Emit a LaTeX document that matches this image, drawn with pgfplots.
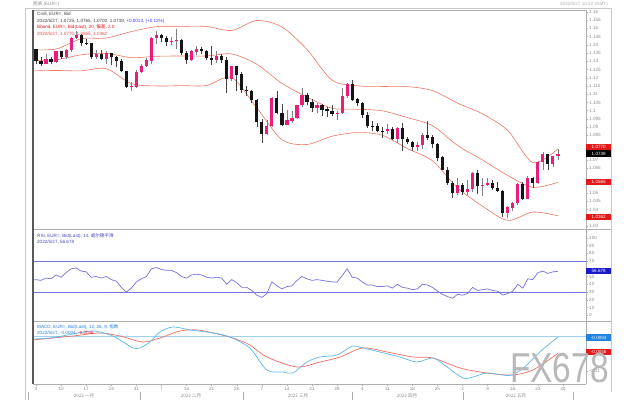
\documentclass[border=0pt]{standalone}
\usepackage{pgfplots}
\pgfplotsset{compat=1.18}
\usepackage{pgfplotstable}
\usepackage{fontspec}
\setmainfont{Liberation Sans}
\newfontfamily\cjk{Noto Sans CJK SC}
\definecolor{cpink}{RGB}{232,30,122}
\definecolor{cblack}{RGB}{20,20,20}
\definecolor{bband}{RGB}{236,120,100}
\definecolor{rsiblue}{RGB}{115,115,225}
\definecolor{rsitext}{RGB}{70,70,200}
\definecolor{macdblue}{RGB}{95,185,235}
\definecolor{macdred}{RGB}{240,110,100}
\definecolor{zeroblue}{RGB}{160,210,240}
\definecolor{lbl}{RGB}{140,140,140}
\definecolor{frame}{RGB}{175,175,175}
\definecolor{boxred}{RGB}{225,25,25}
\definecolor{boxblue}{RGB}{25,25,200}
\definecolor{boxmacd}{RGB}{35,130,220}
\newcommand{\tinyf}{\fontsize{4.6}{5}\selectfont}

\pgfplotstableread{
i o h l c
2 1.1285 1.1346 1.1285 1.1313
4 1.1296 1.1365 1.1288 1.1360
6 1.1325 1.1374 1.1314 1.1368
7 1.1368 1.1448 1.1358 1.1440
8 1.1440 1.1482 1.1435 1.1455
12 1.1325 1.1369 1.1311 1.1343
14 1.1311 1.1364 1.1285 1.1345
19 1.1144 1.1175 1.1121 1.1146
20 1.1146 1.1244 1.1139 1.1235
21 1.1235 1.1284 1.1231 1.1271
22 1.1271 1.1322 1.1266 1.1303
23 1.1303 1.1450 1.1281 1.1440
24 1.1440 1.1483 1.1405 1.1455
27 1.1415 1.1448 1.1400 1.1422
28 1.1422 1.1495 1.1375 1.1424
31 1.1306 1.1368 1.1302 1.1359
32 1.1359 1.1395 1.1335 1.1374
36 1.1309 1.1360 1.1288 1.1327
39 1.1193 1.1274 1.1181 1.1270
46 1.0856 1.0942 1.0854 1.0905
47 1.0905 1.1085 1.0900 1.1075
50 1.0913 1.1002 1.0912 1.0940
51 1.0940 1.0997 1.0924 1.0955
52 1.0955 1.1037 1.0950 1.1033
53 1.1033 1.1137 1.1020 1.1094
56 1.1015 1.1044 1.0986 1.1031
60 1.0982 1.0996 1.0945 1.0985
61 1.0985 1.1137 1.0981 1.1087
62 1.1087 1.1170 1.1078 1.1160
70 1.0876 1.0922 1.0857 1.0889
72 1.0829 1.0902 1.0806 1.0892
76 1.0779 1.0808 1.0757 1.0789
77 1.0789 1.0866 1.0769 1.0853
84 1.0498 1.0593 1.0490 1.0545
86 1.0506 1.0580 1.0491 1.0525
87 1.0525 1.0630 1.0505 1.0622
89 1.0540 1.0592 1.0483 1.0550
90 1.0550 1.0594 1.0543 1.0560
94 1.0381 1.0424 1.0350 1.0411
95 1.0411 1.0444 1.0389 1.0437
96 1.0437 1.0564 1.0425 1.0552
98 1.0467 1.0606 1.0462 1.0587
100 1.0563 1.0697 1.0556 1.0688
101 1.0688 1.0748 1.0641 1.0733
103 1.0676 1.0728 1.0660 1.0723
104 1.0723 1.0765 1.0700 1.0738
}\uptab

\pgfplotstableread{
i o h l c
0 1.1370 1.1376 1.1281 1.1299
1 1.1299 1.1323 1.1272 1.1285
3 1.1313 1.1325 1.1285 1.1296
5 1.1360 1.1363 1.1314 1.1325
9 1.1455 1.1464 1.1394 1.1411
10 1.1411 1.1432 1.1397 1.1408
11 1.1408 1.1413 1.1315 1.1325
13 1.1343 1.1370 1.1307 1.1311
15 1.1345 1.1347 1.1276 1.1325
16 1.1325 1.1333 1.1265 1.1302
17 1.1302 1.1311 1.1234 1.1238
18 1.1238 1.1242 1.1137 1.1144
25 1.1455 1.1465 1.1416 1.1441
26 1.1441 1.1451 1.1394 1.1415
29 1.1424 1.1434 1.1340 1.1349
30 1.1349 1.1364 1.1281 1.1306
33 1.1374 1.1384 1.1341 1.1362
34 1.1362 1.1370 1.1308 1.1320
35 1.1320 1.1394 1.1280 1.1309
37 1.1327 1.1345 1.1292 1.1308
38 1.1308 1.1326 1.1106 1.1193
40 1.1270 1.1273 1.1122 1.1219
41 1.1219 1.1234 1.1106 1.1123
42 1.1123 1.1150 1.1089 1.1118
43 1.1118 1.1125 1.1049 1.1063
44 1.1063 1.1070 1.0900 1.0929
45 1.0929 1.0951 1.0806 1.0856
48 1.1075 1.1121 1.0982 1.0985
49 1.0985 1.1041 1.0906 1.0913
54 1.1094 1.1107 1.1032 1.1051
55 1.1051 1.1070 1.0994 1.1015
57 1.1031 1.1040 1.0967 1.1007
58 1.1007 1.1022 1.0964 1.0998
59 1.0998 1.1037 1.0965 1.0982
63 1.1160 1.1185 1.1058 1.1067
64 1.1067 1.1076 1.1028 1.1046
65 1.1046 1.1050 1.0956 1.0971
66 1.0971 1.0993 1.0897 1.0904
67 1.0904 1.0936 1.0879 1.0902
68 1.0902 1.0923 1.0868 1.0877
69 1.0877 1.0900 1.0837 1.0876
71 1.0889 1.0900 1.0822 1.0829
73 1.0892 1.0923 1.0758 1.0826
74 1.0826 1.0843 1.0796 1.0808
75 1.0808 1.0818 1.0758 1.0779
78 1.0853 1.0936 1.0823 1.0836
79 1.0836 1.0850 1.0771 1.0796
80 1.0796 1.0806 1.0697 1.0715
81 1.0715 1.0724 1.0637 1.0639
82 1.0639 1.0656 1.0551 1.0560
83 1.0560 1.0576 1.0471 1.0498
85 1.0545 1.0564 1.0490 1.0506
88 1.0622 1.0641 1.0493 1.0540
91 1.0560 1.0577 1.0517 1.0530
92 1.0530 1.0567 1.0505 1.0513
93 1.0513 1.0518 1.0354 1.0381
97 1.0552 1.0566 1.0459 1.0467
99 1.0587 1.0600 1.0532 1.0563
102 1.0733 1.0737 1.0642 1.0676
}\downtab

\pgfplotstableread{
i ub mb lb
-1 1.1371 1.1306 1.1241
4 1.1374 1.1309 1.1244
9 1.1436 1.1339 1.1242
14 1.1441 1.1348 1.1255
19 1.1480 1.1322 1.1164
24 1.1510 1.1330 1.1150
29 1.1512 1.1332 1.1152
34 1.1511 1.1332 1.1153
39 1.1487 1.1344 1.1201
44 1.1547 1.1282 1.1017
49 1.1508 1.1166 1.0824
54 1.1371 1.1083 1.0795
59 1.1185 1.1015 1.0845
64 1.1151 1.1009 1.0867
69 1.1147 1.0999 1.0851
74 1.1146 1.0958 1.0770
79 1.1122 1.0909 1.0696
84 1.1046 1.0789 1.0532
89 1.0980 1.0700 1.0420
94 1.0880 1.0607 1.0334
99 1.0685 1.0535 1.0385
104 1.0768 1.0565 1.0362
}\bbtab

\pgfplotsset{
  panel/.style={
    scale only axis, width=553bp,
    xmin=-0.6, xmax=109.6,
    axis y line*=right,
    axis line style={-, draw=frame, line width=0.5bp},
    ytick pos=right, yticklabel pos=right,
    tick align=outside, major tick length=2bp,
    tick style={frame, line width=0.4bp},
    yticklabel style={font=\tinyf, text=lbl, inner sep=1bp},
    /pgf/number format/assume math mode=true,
    scaled y ticks=false,
  },
  candle/.style={only marks, mark=*, mark size=0pt, mark options={draw=none, fill=none},
    error bars/.cd, y dir=plus, y explicit, error mark=none},
}

\begin{document}
\begin{tikzpicture}
\useasboundingbox (0,0) rectangle (640bp,400bp);
\fill[white] (0,0) rectangle (640bp,400bp);

% ---------------- main price panel
\begin{axis}[panel, axis x line=none, at={(33bp,390bp)}, anchor=north west, height=219bp,
  ymin=1.0282, ymax=1.1611,
  ytick={1.03,1.04,1.045,1.05,1.065,1.07,1.085,1.09,1.095,1.1,1.105,1.11,1.115,1.12,1.125,1.13,1.135,1.14,1.145,1.15,1.155,1.16},
  yticklabel style={/pgf/number format/fixed, /pgf/number format/precision=3},
]
\addplot[bband, line width=0.6bp, smooth] table[x=i, y=ub] {\bbtab};
\addplot[bband, line width=0.6bp, smooth] table[x=i, y=mb] {\bbtab};
\addplot[bband, line width=0.6bp, smooth] table[x=i, y=lb] {\bbtab};
% wicks
\addplot[candle, error bar style={line width=0.6bp, draw=cblack!80}]
  table[x=i, y=l, y error expr=\thisrow{h}-\thisrow{l}] {\downtab};
\addplot[candle, error bar style={line width=0.6bp, draw=gray}]
  table[x=i, y=l, y error expr=\thisrow{h}-\thisrow{l}] {\uptab};
% bodies
\addplot[candle, error bar style={line width=3.2bp, draw=cblack}]
  table[x=i, y=c, y error expr=\thisrow{o}-\thisrow{c}+0.0002] {\downtab};
\addplot[candle, error bar style={line width=3.2bp, draw=cpink}]
  table[x=i, y=o, y error expr=\thisrow{c}-\thisrow{o}+0.0002] {\uptab};
\end{axis}

% ---------------- RSI panel
\begin{axis}[panel, axis x line=none, at={(33bp,171bp)}, anchor=north west, height=92bp,
  ymin=-7.4, ymax=111.3,
  ytick={0,10,20,30,40,50,70,80,90,100},
]
\addplot[rsiblue, line width=0.7bp] coordinates {(-1,70) (110,70)};
\addplot[rsiblue, line width=0.7bp] coordinates {(-1,30) (110,30)};
\addplot[rsiblue, line width=0.7bp] coordinates {
(-1,45) (0,46) (1,45) (2,48) (3,47) (4,52) (5,49) (6,55) (7,60) (8,61) (9,57) (10,56) (11,49) (12,50) (13,48) (14,50) (15,46) (16,44) (17,36) (18,30) (19,35) (20,43) (21,47) (22,50) (23,60) (24,61.5) (25,59) (26,58) (27,58) (28,55) (29,50) (30,48) (31,52) (32,53) (33,52) (34,49) (35,48) (36,49) (37,48) (38,40) (39,46) (40,42) (41,36) (42,36) (43,32) (44,26) (45,23) (46,28) (47,43) (48,38) (49,34) (50,37) (51,38) (52,45) (53,50) (54,47) (55,45) (56,46) (57,45) (58,44) (59,43) (60,43) (61,51) (62,60) (63,49) (64,48) (65,43) (66,39) (67,39) (68,37) (69,37) (70,38) (71,35) (72,40) (73,36) (74,35) (75,33) (76,34) (77,40) (78,39) (79,36) (80,31) (81,27) (82,24) (83,22) (84,27) (85,26) (86,28) (87,36) (88,32) (89,33) (90,34) (91,32) (92,31) (93,26) (94,28) (95,31) (96,40) (97,35) (98,47) (99,46) (100,55) (101,57) (102,54) (103,56) (104,56.7)};
\end{axis}

% ---------------- MACD panel
\begin{axis}[panel, at={(33bp,79bp)}, anchor=north west, height=63bp,
  ymin=-0.0138, ymax=0.0043,
  axis x line*=bottom,
  ytick={-0.01},
  yticklabel style={/pgf/number format/fixed, /pgf/number format/precision=3},
  xtick={0,5,...,105},
  xticklabels={3,10,17,24,31,7,14,21,28,7,14,21,28,4,11,18,25,2,9,16,23,30},
  xticklabel style={font=\tinyf, text=lbl, inner sep=1bp},
]
\addplot[zeroblue, line width=0.7bp] coordinates {(-1,0) (110,0)};
\addplot[macdred, line width=0.7bp, smooth] coordinates {
(-0.6,-0.00115) (7.4,0) (12.7,0.00086) (16.7,0) (21.3,-0.00173) (24.7,-0.00058) (28.7,0.00144) (32.1,0.00173) (35.3,0.00086) (39.2,-0.00058) (42.6,-0.00259) (46,-0.00604) (52,-0.00891) (56.6,-0.00748) (60.6,-0.00604) (65.1,-0.00345) (69.9,-0.0046) (75.1,-0.00604) (79.1,-0.00633) (84.5,-0.0092) (89.8,-0.01064) (95,-0.01121) (99,-0.00978) (103,-0.00604) (104,-0.00489)};
\addplot[macdblue, line width=0.7bp, smooth] coordinates {
(-0.6,-0.00086) (2.8,-0.00058) (7.4,0.00058) (10.8,0.00144) (12.7,0.00115) (15.3,0) (17.7,-0.00201) (19.3,-0.00345) (20.7,-0.00345) (22.7,-0.00173) (24.7,0.00115) (27.3,0.00259) (30.7,0.00173) (35.3,0.00086) (38.6,-0.00029) (42.6,-0.00345) (46,-0.00978) (49.2,-0.01035) (51.2,-0.01064) (54,-0.00748) (56.6,-0.00604) (60,-0.00546) (63.1,-0.00288) (65.1,-0.00345) (68.5,-0.0046) (72.5,-0.00604) (75.9,-0.00748) (79.1,-0.00633) (81.9,-0.00891) (85.1,-0.01208) (87.1,-0.01179) (89.8,-0.01064) (93,-0.01121) (95,-0.01121) (97.8,-0.00834) (100.4,-0.0046) (104,-0.00029)};
\end{axis}

% ---------------- frames
\draw[frame!70, line width=0.5bp] (25bp,392bp) -- (611bp,392bp);
\draw[frame!70, line width=0.5bp] (25bp,392bp) -- (25bp,0bp);
\draw[frame!70, line width=0.5bp] (611bp,392bp) -- (611bp,8bp);
\draw[frame, line width=0.6bp] (33bp,390bp) -- (586bp,390bp);
\draw[frame, line width=0.7bp] (33bp,171bp) -- (611bp,171bp);
\draw[frame, line width=0.7bp] (33bp,79bp) -- (611bp,79bp);
\draw[black!65, line width=1.6bp] (33bp,390bp) -- (33bp,16bp);

% ---------------- texts
\node[anchor=west, inner sep=0, font=\tinyf, text=lbl] at (33bp,396bp) {{\cjk 图表} (EUR=)};
\node[anchor=east, inner sep=0, font=\tinyf, text=lbl!70] at (608bp,396bp) {2022/5/27 10:22 (GMT)};

\node[anchor=west, inner sep=0, font=\tinyf, text=black!75] at (37bp,386bp) {Cndl, EUR=, Bid};
\node[anchor=west, inner sep=0, font=\tinyf, text=black!75] at (37bp,379bp) {2022/5/27, 1.0725, 1.0765, 1.0700, 1.0738, \textcolor{blue!80}{+0.0013, (+0.12\%)}};
\node[anchor=west, inner sep=0, font=\tinyf, text=boxred] at (37bp,372.5bp) {Bband, EUR=, Bid(Last), 20, {\cjk 偏差}, 2.0};
\node[anchor=west, inner sep=0, font=\tinyf, text=boxred!80] at (37bp,366bp) {2022/5/27, 1.0770, 1.0565, 1.0362};

\node[anchor=west, inner sep=0, font=\tinyf, text=rsitext] at (37bp,164bp) {RSI, EUR=, Bid(Last), 14, {\cjk 威尔德平滑}};
\node[anchor=west, inner sep=0, font=\tinyf, text=rsitext] at (37bp,158bp) {2022/5/27, 56.678};

\node[anchor=west, inner sep=0, font=\tinyf, text=boxmacd] at (37bp,73bp) {MACD, EUR=, Bid(Last), 12, 26, 9, {\cjk 指数}};
\node[anchor=west, inner sep=0, font=\tinyf, text=boxmacd] at (37bp,67bp) {2022/5/27, -0.0004, \textcolor{boxred}{-0.0046}};

% right value boxes
\node[anchor=west, inner sep=0, fill=boxred, text=white, font=\tinyf, minimum width=25bp, minimum height=6.5bp] at (586bp,253bp) {1.0770};
\node[anchor=west, inner sep=0, fill=black, text=white, font=\tinyf, minimum width=25bp, minimum height=6.5bp] at (586bp,246.5bp) {1.0738};
\node[anchor=west, inner sep=0, fill=boxred, text=white, font=\tinyf, minimum width=25bp, minimum height=6.5bp] at (586bp,218bp) {1.0565};
\node[anchor=west, inner sep=0, fill=boxred, text=white, font=\tinyf, minimum width=25bp, minimum height=6.5bp] at (586bp,183bp) {1.0362};
\node[anchor=west, inner sep=0, fill=boxblue, text=white, font=\tinyf, minimum width=25bp, minimum height=6.5bp] at (586bp,129bp) {56.678};
\node[anchor=west, inner sep=0, fill=boxmacd, text=white, font=\tinyf, minimum width=25bp, minimum height=6.5bp] at (586bp,62.5bp) {-0.0004};
\node[anchor=west, inner sep=0, fill=boxred, text=white, font=\tinyf, minimum width=25bp, minimum height=6.5bp] at (586bp,48bp) {-0.0046};

% month row
\foreach \xx in {28,140,243,352,463,573} {\draw[frame, line width=0.4bp] (\xx bp,0bp) -- (\xx bp,8bp);}
\node[font=\tinyf, text=lbl, inner sep=0] at (84bp,4bp) {\cjk 2022 一月};
\node[font=\tinyf, text=lbl, inner sep=0] at (191bp,4bp) {\cjk 2022 二月};
\node[font=\tinyf, text=lbl, inner sep=0] at (298bp,4bp) {\cjk 2022 三月};
\node[font=\tinyf, text=lbl, inner sep=0] at (407bp,4bp) {\cjk 2022 四月};
\node[font=\tinyf, text=lbl, inner sep=0] at (516bp,4bp) {\cjk 2022 五月};

% watermark
\node[anchor=south west, inner sep=0, xscale=0.8, transform shape, text=black!28, font=\fontsize{42}{42}\selectfont] at (510bp,17bp) {FX678};
\end{tikzpicture}
\end{document}
